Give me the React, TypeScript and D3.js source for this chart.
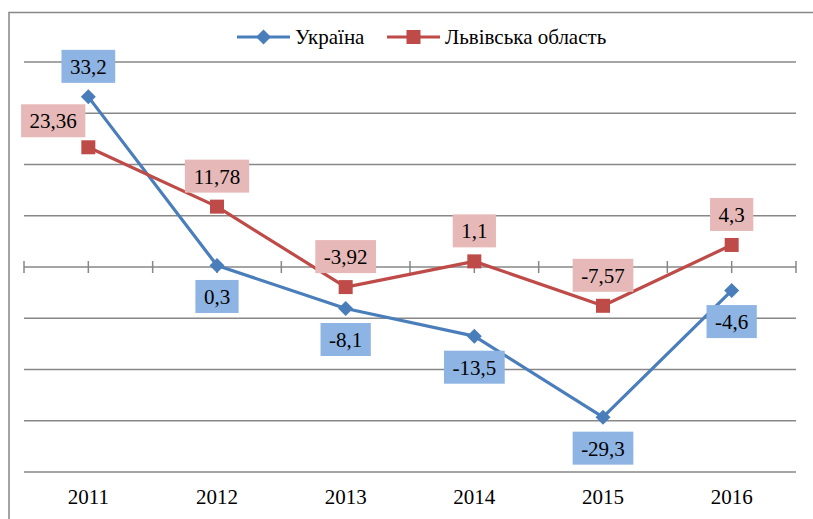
import React from "react";
import * as d3 from "d3";

const years = ["2011", "2012", "2013", "2014", "2015", "2016"];
const ukraine = [33.2, 0.3, -8.1, -13.5, -29.3, -4.6];
const lviv = [23.36, 11.78, -3.92, 1.1, -7.57, 4.3];
const ukraineLabelPos = ["above", "below", "below", "below", "below", "below"];
const lvivLabelPos = ["left", "above", "above", "above", "above", "above"];
const yTicks = [-40, -30, -20, -10, 10, 20, 30, 40];
const seriesNames = ["Україна", "Львівська область"];

const W = 813;
const H = 519;
const FONT = "Liberation Serif";
const BLUE = "#4A7EBB";
const RED = "#BE4B48";
const BLUE_BOX = "#8DB4E3";
const RED_BOX = "#E6B9B8";
const GRID = "#878787";

const fmt = (v: number) => String(v).replace(".", ",");

function textWidth(s: string) {
  let w = 0;
  for (const ch of s) {
    if (ch === ",") w += 5.25;
    else if (ch === "-") w += 7;
    else w += 10.5;
  }
  return w;
}

export default function App() {
  const x = d3.scaleBand<string>().domain(years).range([24, 796]);
  const y = d3.scaleLinear().domain([-40, 40]).range([472, 62]);
  const cx = (d: string) => (x(d) as number) + x.bandwidth() / 2;

  const line = d3
    .line<number>()
    .x((_, i) => cx(years[i]))
    .y((v) => y(v));

  const tickXs: number[] = [];
  years.forEach((yr) => {
    tickXs.push(x(yr) as number);
    tickXs.push(cx(yr));
  });
  tickXs.push(796);

  const txtStyle = { fontFamily: FONT, fontSize: "21px" };

  const renderLabel = (
    v: number,
    i: number,
    pos: string,
    fill: string,
    key: string
  ) => {
    const px = cx(years[i]);
    const py = y(v);
    const txt = fmt(v);
    const bw = textWidth(txt) + 17;
    const bh = 33;
    let bx = px - bw / 2;
    let by = py - 14 - bh;
    if (pos === "below") by = py + 14.5;
    if (pos === "left") {
      bx = px - 3 - bw;
      by = py - 10 - bh;
    }
    return (
      <g key={key}>
        <rect x={bx} y={by} width={bw} height={bh} fill={fill} />
        <text
          x={bx + bw / 2}
          y={by + bh / 2 + 7.5}
          textAnchor="middle"
          style={txtStyle}
          fill="#000"
        >
          {txt}
        </text>
      </g>
    );
  };

  const diamond = (px: number, py: number, key: string) => (
    <path
      key={key}
      d={`M${px},${py - 7.5}L${px + 7.5},${py}L${px},${py + 7.5}L${px - 7.5},${py}Z`}
      fill={BLUE}
    />
  );
  const square = (px: number, py: number, key: string) => (
    <rect key={key} x={px - 7} y={py - 7} width={14} height={14} fill={RED} />
  );

  return (
    <svg
      width={W}
      height={H}
      style={{ position: "absolute", left: 0, top: 0, background: "#fff", fontFamily: FONT }}
    >
      <rect x={0} y={0} width={W} height={H} fill="#fff" />
      <rect x={9} y={12.5} width={830} height={530} fill="none" stroke={GRID} strokeWidth={1.5} />
      {yTicks.map((t) => (
        <line key={t} x1={24} x2={796} y1={y(t)} y2={y(t)} stroke={GRID} strokeWidth={1.5} />
      ))}
      <line x1={24} x2={796} y1={y(0)} y2={y(0)} stroke={GRID} strokeWidth={1.5} />
      {tickXs.map((tx, i) => (
        <line key={i} x1={tx} x2={tx} y1={y(0) - 6} y2={y(0) + 6} stroke={GRID} strokeWidth={1.5} />
      ))}
      {years.map((yr) => (
        <text key={yr} x={cx(yr)} y={504} textAnchor="middle" style={txtStyle} fill="#000">
          {yr}
        </text>
      ))}
      <path d={line(ukraine) as string} fill="none" stroke={BLUE} strokeWidth={3.2} strokeLinejoin="round" />
      <path d={line(lviv) as string} fill="none" stroke={RED} strokeWidth={3.2} strokeLinejoin="round" />
      {ukraine.map((v, i) => diamond(cx(years[i]), y(v), "ud" + i))}
      {lviv.map((v, i) => square(cx(years[i]), y(v), "ls" + i))}
      {ukraine.map((v, i) => renderLabel(v, i, ukraineLabelPos[i], BLUE_BOX, "ul" + i))}
      {lviv.map((v, i) => renderLabel(v, i, lvivLabelPos[i], RED_BOX, "ll" + i))}
      <g>
        <line x1={237} x2={290} y1={37} y2={37} stroke={BLUE} strokeWidth={3.2} />
        {diamond(263.5, 37, "lgd")}
        <text x={295} y={44} style={txtStyle} fill="#000">
          {seriesNames[0]}
        </text>
        <line x1={387} x2={440} y1={37} y2={37} stroke={RED} strokeWidth={3.2} />
        {square(413.5, 37, "lgs")}
        <text x={445} y={44} style={txtStyle} fill="#000">
          {seriesNames[1]}
        </text>
      </g>
    </svg>
  );
}
